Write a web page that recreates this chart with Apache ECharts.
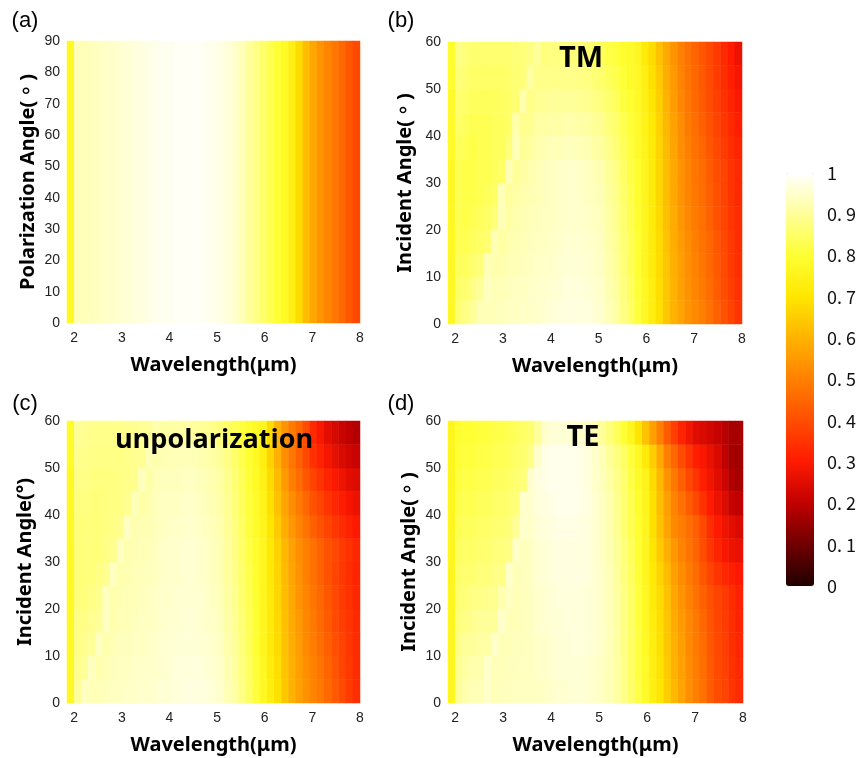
<!DOCTYPE html>
<html><head><meta charset="utf-8">
<script src="https://cdn.jsdelivr.net/npm/echarts@6/dist/echarts.min.js"></script>
<style>html,body{margin:0;padding:0;background:#fff}#c{width:859px;height:758px}</style>
</head><body><div id="c"></div>
<script>
// ---------- data ----------
const wavelengths = [1.925,2.075,2.225,2.375,2.525,2.675,2.825,2.975,3.125,3.275,3.425,3.575,3.725,3.875,4.025,4.175,4.325,4.475,4.625,4.775,4.925,5.075,5.225,5.375,5.525,5.675,5.825,5.975,6.125,6.275,6.425,6.575,6.725,6.875,7.025,7.175,7.325,7.475,7.625,7.775,7.925];
const polarAngles = ['0-90'];
const incidentAngles = [2.5,7.5,12.5,17.5,22.5,27.5,32.5,37.5,42.5,47.5,52.5,57.5];
const xTicks = [2,3,4,5,6,7,8];
const colorTicks = [0,0.1,0.2,0.3,0.4,0.5,0.6,0.7,0.8,0.9,1];

// (a) absorptance vs wavelength, identical for every polarization angle
const polarizationRow = [0.77,0.93,0.93,0.935,0.94,0.945,0.95,0.955,0.96,0.965,0.97,0.975,0.98,0.985,0.985,0.99,0.99,0.99,0.99,0.985,0.98,0.975,0.965,0.95,0.93,0.905,0.88,0.855,0.83,0.8,0.775,0.74,0.68,0.62,0.575,0.54,0.51,0.48,0.45,0.42,0.39];

// (b) TM, rows from 0-5 deg (bottom) to 55-60 deg (top)
const tmRows = [
[0.77,0.86,0.88,0.9,0.93,0.93,0.93,0.935,0.94,0.94,0.945,0.945, 0.95,0.955,0.96,0.965,0.97,0.97,0.97,0.965,0.96,0.95,0.93,0.91,0.88,0.85,0.81,0.77,0.73,0.69,0.64,0.60,0.57,0.54,0.52,0.50,0.47,0.44,0.41,0.38,0.35],
[0.77,0.85,0.86,0.88,0.9,0.94,0.93,0.93,0.935,0.94,0.94,0.945, 0.95,0.95,0.955,0.96,0.965,0.965,0.965,0.96,0.955,0.945,0.925,0.905,0.875,0.845,0.805,0.77,0.73,0.685,0.64,0.60,0.565,0.535,0.51,0.49,0.46,0.43,0.40,0.37,0.345],
[0.77,0.84,0.84,0.86,0.87,0.93,0.92,0.92,0.93,0.93,0.935,0.94, 0.945,0.945,0.95,0.955,0.96,0.96,0.96,0.955,0.95,0.94,0.92,0.9,0.87,0.84,0.8,0.765,0.725,0.68,0.635,0.595,0.56,0.53,0.505,0.48,0.455,0.425,0.395,0.365,0.34],
[0.77,0.83,0.83,0.84,0.85,0.86,0.93,0.91,0.92,0.925,0.93,0.935, 0.94,0.94,0.945,0.95,0.955,0.955,0.955,0.95,0.945,0.935,0.915,0.895,0.865,0.835,0.8,0.765,0.725,0.68,0.63,0.59,0.555,0.525,0.5,0.475,0.45,0.42,0.39,0.36,0.335],
[0.77,0.83,0.82,0.83,0.84,0.85,0.87,0.93,0.91,0.92,0.925,0.93, 0.935,0.94,0.94,0.945,0.95,0.95,0.95,0.945,0.94,0.93,0.91,0.89,0.86,0.83,0.795,0.76,0.72,0.675,0.625,0.585,0.545,0.515,0.49,0.47,0.44,0.41,0.385,0.355,0.335],
[0.77,0.83,0.82,0.82,0.83,0.84,0.85,0.93,0.905,0.91,0.92,0.925, 0.93,0.935,0.94,0.945,0.95,0.95,0.945,0.94,0.935,0.925,0.905,0.885,0.855,0.825,0.79,0.76,0.72,0.67,0.62,0.58,0.54,0.51,0.485,0.465,0.435,0.405,0.38,0.35,0.33],
[0.77,0.83,0.82,0.82,0.83,0.83,0.84,0.85,0.93,0.9,0.91,0.92, 0.93,0.935,0.94,0.945,0.95,0.95,0.945,0.94,0.93,0.92,0.90,0.88,0.85,0.82,0.79,0.76,0.72,0.67,0.62,0.58,0.54,0.51,0.48,0.46,0.43,0.40,0.38,0.35,0.33],
[0.78,0.84,0.83,0.82,0.83,0.83,0.84,0.84,0.87,0.93,0.9,0.905, 0.92,0.925,0.93,0.93,0.935,0.935,0.93,0.925,0.915,0.905,0.885,0.865,0.84,0.81,0.785,0.755,0.715,0.665,0.615,0.57,0.53,0.50,0.47,0.45,0.42,0.39,0.365,0.34,0.32],
[0.78,0.85,0.84,0.83,0.83,0.83,0.84,0.84,0.85,0.92,0.89,0.89, 0.91,0.91,0.915,0.915,0.92,0.92,0.915,0.91,0.9,0.89,0.87,0.855,0.83,0.805,0.78,0.75,0.71,0.66,0.61,0.565,0.525,0.49,0.465,0.44,0.41,0.38,0.355,0.33,0.31],
[0.78,0.86,0.85,0.84,0.84,0.84,0.84,0.845,0.85,0.86,0.92,0.88, 0.895,0.895,0.9,0.9,0.9,0.9,0.895,0.89,0.88,0.87,0.855,0.84,0.815,0.795,0.775,0.745,0.70,0.655,0.60,0.555,0.515,0.48,0.455,0.43,0.40,0.37,0.345,0.32,0.295],
[0.79,0.87,0.86,0.85,0.85,0.85,0.85,0.85,0.855,0.86,0.87,0.91, 0.885,0.885,0.885,0.885,0.885,0.885,0.88,0.875,0.865,0.855,0.84,0.825,0.805,0.785,0.77,0.735,0.69,0.645,0.59,0.55,0.51,0.475,0.45,0.425,0.395,0.365,0.34,0.31,0.285],
[0.79,0.88,0.87,0.86,0.86,0.86,0.86,0.86,0.86,0.865,0.87,0.88, 0.9,0.87,0.875,0.875,0.875,0.87,0.87,0.86,0.85,0.84,0.82,0.81,0.79,0.78,0.765,0.72,0.68,0.63,0.58,0.54,0.50,0.47,0.445,0.42,0.39,0.36,0.33,0.30,0.27]
];

// (c) unpolarization
const unpolRows = [
[0.77,0.9,0.94,0.93,0.93,0.935,0.94,0.94,0.945,0.945,0.95,0.95, 0.955,0.96,0.96,0.965,0.97,0.97,0.97,0.965,0.96,0.95,0.93,0.91,0.88,0.85,0.81,0.77,0.73,0.69,0.64,0.60,0.565,0.535,0.51,0.485,0.455,0.425,0.395,0.365,0.34],
[0.77,0.89,0.9,0.94,0.92,0.93,0.935,0.94,0.94,0.945,0.945,0.95, 0.95,0.955,0.96,0.965,0.965,0.965,0.965,0.96,0.955,0.945,0.925,0.905,0.875,0.845,0.805,0.77,0.725,0.685,0.635,0.595,0.56,0.53,0.505,0.475,0.445,0.415,0.385,0.36,0.335],
[0.77,0.88,0.89,0.9,0.94,0.92,0.93,0.935,0.935,0.94,0.94,0.945, 0.95,0.955,0.955,0.96,0.96,0.96,0.96,0.955,0.95,0.94,0.92,0.9,0.87,0.84,0.8,0.765,0.72,0.68,0.63,0.59,0.555,0.52,0.495,0.465,0.435,0.405,0.38,0.355,0.335],
[0.77,0.88,0.88,0.89,0.9,0.94,0.92,0.93,0.93,0.935,0.94,0.94, 0.945,0.95,0.955,0.955,0.96,0.96,0.955,0.95,0.945,0.935,0.915,0.895,0.865,0.835,0.8,0.765,0.72,0.675,0.625,0.585,0.55,0.515,0.49,0.455,0.425,0.395,0.37,0.35,0.33],
[0.77,0.87,0.87,0.88,0.89,0.94,0.92,0.925,0.93,0.93,0.935,0.94, 0.945,0.95,0.95,0.955,0.955,0.955,0.955,0.95,0.94,0.93,0.91,0.89,0.86,0.83,0.795,0.76,0.715,0.67,0.62,0.58,0.54,0.51,0.48,0.45,0.42,0.39,0.365,0.345,0.325],
[0.77,0.87,0.87,0.87,0.88,0.89,0.94,0.92,0.925,0.93,0.93,0.935, 0.94,0.945,0.95,0.95,0.955,0.955,0.95,0.945,0.935,0.925,0.905,0.885,0.855,0.825,0.79,0.76,0.71,0.665,0.615,0.57,0.535,0.5,0.47,0.44,0.41,0.385,0.36,0.34,0.32],
[0.77,0.87,0.87,0.87,0.87,0.88,0.89,0.94,0.92,0.925,0.93,0.93, 0.94,0.945,0.95,0.95,0.955,0.955,0.95,0.945,0.935,0.925,0.905,0.88,0.85,0.82,0.79,0.76,0.71,0.66,0.61,0.565,0.53,0.5,0.47,0.44,0.41,0.39,0.365,0.345,0.325],
[0.77,0.87,0.87,0.87,0.87,0.875,0.88,0.89,0.94,0.92,0.925,0.925, 0.935,0.94,0.945,0.945,0.95,0.95,0.945,0.94,0.93,0.92,0.9,0.875,0.845,0.815,0.785,0.755,0.70,0.645,0.59,0.545,0.51,0.475,0.44,0.41,0.38,0.355,0.335,0.315,0.295],
[0.77,0.875,0.875,0.87,0.87,0.875,0.875,0.88,0.89,0.935,0.915,0.92, 0.935,0.94,0.94,0.94,0.945,0.945,0.94,0.935,0.925,0.915,0.895,0.87,0.84,0.81,0.78,0.75,0.69,0.63,0.57,0.525,0.49,0.45,0.41,0.38,0.35,0.325,0.305,0.285,0.27],
[0.77,0.88,0.88,0.875,0.875,0.875,0.875,0.88,0.885,0.89,0.935,0.915, 0.93,0.935,0.935,0.935,0.94,0.94,0.935,0.93,0.92,0.91,0.89,0.865,0.835,0.805,0.775,0.745,0.68,0.615,0.55,0.5,0.46,0.42,0.38,0.35,0.32,0.295,0.275,0.255,0.245],
[0.78,0.89,0.885,0.88,0.88,0.88,0.88,0.88,0.885,0.89,0.895,0.93, 0.92,0.925,0.93,0.93,0.93,0.93,0.925,0.92,0.91,0.9,0.88,0.855,0.825,0.8,0.77,0.73,0.66,0.595,0.53,0.48,0.44,0.39,0.345,0.315,0.285,0.26,0.24,0.225,0.215],
[0.78,0.9,0.89,0.885,0.885,0.885,0.885,0.885,0.89,0.89,0.895,0.9, 0.92,0.91,0.91,0.91,0.91,0.905,0.9,0.895,0.885,0.87,0.85,0.83,0.81,0.79,0.775,0.76,0.68,0.6,0.54,0.49,0.45,0.4,0.33,0.29,0.255,0.235,0.215,0.2,0.185]
];

// (d) TE
const teRows = [
[0.76,0.9,0.92,0.93,0.93,0.95,0.93,0.935,0.935,0.94,0.94,0.94, 0.94,0.945,0.95,0.955,0.955,0.96,0.96,0.955,0.95,0.94,0.93,0.91,0.885,0.855,0.82,0.785,0.74,0.70,0.65,0.61,0.57,0.53,0.50,0.47,0.43,0.40,0.38,0.35,0.335],
[0.76,0.89,0.91,0.92,0.92,0.95,0.93,0.93,0.935,0.935,0.94,0.94, 0.945,0.95,0.955,0.96,0.96,0.96,0.96,0.955,0.95,0.94,0.93,0.91,0.885,0.85,0.815,0.78,0.735,0.695,0.645,0.60,0.565,0.525,0.495,0.465,0.425,0.395,0.375,0.345,0.33],
[0.76,0.88,0.9,0.9,0.91,0.91,0.95,0.93,0.93,0.935,0.935,0.94, 0.945,0.95,0.955,0.96,0.96,0.965,0.965,0.96,0.955,0.945,0.93,0.91,0.88,0.85,0.815,0.775,0.73,0.69,0.64,0.595,0.56,0.52,0.49,0.46,0.42,0.39,0.37,0.34,0.325],
[0.76,0.87,0.88,0.89,0.9,0.9,0.9,0.95,0.93,0.93,0.935,0.94, 0.95,0.955,0.96,0.96,0.965,0.965,0.965,0.96,0.955,0.945,0.93,0.91,0.88,0.85,0.81,0.77,0.725,0.685,0.635,0.585,0.55,0.515,0.485,0.45,0.415,0.385,0.365,0.34,0.32],
[0.76,0.86,0.87,0.88,0.88,0.89,0.89,0.92,0.94,0.93,0.935,0.94, 0.95,0.955,0.96,0.965,0.965,0.965,0.965,0.96,0.955,0.945,0.93,0.91,0.88,0.85,0.81,0.77,0.72,0.68,0.63,0.575,0.54,0.505,0.47,0.44,0.405,0.38,0.36,0.335,0.315],
[0.76,0.85,0.86,0.86,0.87,0.87,0.88,0.88,0.95,0.93,0.935,0.94, 0.955,0.96,0.965,0.97,0.97,0.97,0.97,0.965,0.955,0.945,0.93,0.905,0.875,0.845,0.805,0.765,0.71,0.665,0.615,0.56,0.525,0.49,0.46,0.42,0.38,0.35,0.325,0.31,0.295],
[0.76,0.84,0.85,0.85,0.86,0.86,0.87,0.87,0.88,0.95,0.935,0.94, 0.955,0.96,0.965,0.97,0.97,0.97,0.97,0.965,0.955,0.94,0.925,0.9,0.87,0.84,0.8,0.76,0.70,0.645,0.595,0.545,0.51,0.475,0.445,0.40,0.355,0.32,0.29,0.275,0.265],
[0.76,0.83,0.84,0.84,0.85,0.85,0.86,0.86,0.87,0.9,0.95,0.945, 0.96,0.965,0.97,0.975,0.975,0.975,0.97,0.965,0.955,0.94,0.92,0.895,0.86,0.83,0.795,0.76,0.69,0.63,0.57,0.52,0.495,0.465,0.435,0.39,0.34,0.30,0.275,0.255,0.24],
[0.76,0.82,0.83,0.83,0.84,0.84,0.85,0.85,0.86,0.87,0.95,0.95, 0.965,0.97,0.975,0.98,0.98,0.98,0.975,0.97,0.955,0.94,0.92,0.89,0.86,0.83,0.79,0.755,0.69,0.62,0.56,0.505,0.47,0.43,0.39,0.345,0.30,0.27,0.245,0.21,0.2],
[0.76,0.81,0.82,0.82,0.83,0.83,0.84,0.84,0.85,0.86,0.87,0.95, 0.97,0.975,0.98,0.98,0.98,0.98,0.975,0.965,0.95,0.935,0.91,0.885,0.86,0.82,0.785,0.75,0.68,0.61,0.54,0.485,0.44,0.39,0.35,0.31,0.28,0.25,0.22,0.18,0.17],
[0.76,0.8,0.81,0.81,0.82,0.82,0.83,0.83,0.84,0.85,0.86,0.88, 0.95,0.975,0.98,0.98,0.98,0.98,0.975,0.965,0.95,0.93,0.9,0.875,0.85,0.81,0.77,0.72,0.65,0.58,0.5,0.45,0.4,0.35,0.31,0.29,0.265,0.24,0.2,0.165,0.16],
[0.76,0.79,0.8,0.8,0.81,0.81,0.82,0.82,0.83,0.84,0.85,0.86, 0.9,0.95,0.96,0.96,0.96,0.955,0.95,0.94,0.92,0.9,0.87,0.84,0.8,0.76,0.7,0.63,0.56,0.5,0.43,0.37,0.32,0.28,0.25,0.24,0.225,0.21,0.19,0.17,0.17]
];

// ---------- build ----------
[[polarizationRow], tmRows, unpolRows, teRows].forEach((rows, k) => rows.forEach((r, j) => {
  if (r.length !== wavelengths.length) throw new Error('panel ' + k + ' row ' + j + ' has ' + r.length);
}));
function toCells(rows) {
  const out = [];
  rows.forEach((row, j) => row.forEach((v, i) => out.push([i, j, v])));
  return out;
}
const panels = [
  {rows: [polarizationRow], cats: polarAngles, yMax: 90, yName: 'Polarization Angle(。)', yGap: 29, grid: {left: 67, top: 41, width: 293, height: 282}},
  {rows: tmRows, cats: incidentAngles, yMax: 60, yName: 'Incident Angle(。)', yGap: 33, grid: {left: 448, top: 42, width: 294, height: 282}},
  {rows: unpolRows, cats: incidentAngles, yMax: 60, yName: 'Incident Angle(°)', yGap: 32, grid: {left: 67, top: 421, width: 293, height: 282}},
  {rows: teRows, cats: incidentAngles, yMax: 60, yName: 'Incident Angle(。)', yGap: 29, grid: {left: 448, top: 421, width: 295, height: 282}}
];
const nameFont = {fontFamily: '"Noto Sans", "Noto Sans CJK TC", sans-serif', fontWeight: 'bold', fontSize: 20, color: '#000'};
const tickFont = {fontFamily: '"Liberation Sans", Arial, sans-serif', fontSize: 14, color: '#222'};
const hidden = {axisLine: {show: false, onZero: false}, axisTick: {show: false}, splitLine: {show: false}};

const grid = [], xAxis = [], yAxis = [], series = [];
panels.forEach((p, k) => {
  grid.push(p.grid);
  xAxis.push({type: 'category', gridIndex: k, data: wavelengths.map(String), show: false, position: 'bottom'});
  xAxis.push(Object.assign({type: 'value', gridIndex: k, min: 1.85, max: 8, position: 'bottom',
    axisLabel: Object.assign({customValues: xTicks, margin: 8}, tickFont),
    name: 'Wavelength(μm)', nameLocation: 'middle', nameGap: 32, nameTextStyle: nameFont}, hidden));
  yAxis.push({type: 'category', gridIndex: k, data: p.cats.map(String), show: false, position: 'left'});
  yAxis.push(Object.assign({type: 'value', gridIndex: k, min: 0, max: p.yMax, interval: 10, position: 'left',
    axisLabel: Object.assign({margin: 7}, tickFont),
    name: p.yName, nameLocation: 'middle', nameGap: p.yGap, nameRotate: 90, nameTextStyle: nameFont}, hidden));
  series.push({type: 'heatmap', xAxisIndex: 2 * k, yAxisIndex: 2 * k, data: toCells(p.rows), silent: true,
    progressive: 0, itemStyle: {borderWidth: 0}});
});
// colour bar tick labels
grid.push({left: 786, top: 173, width: 28, height: 413});
xAxis.push({type: 'value', gridIndex: 4, show: false});
yAxis.push(Object.assign({type: 'value', gridIndex: 4, min: 0, max: 1, interval: 0.1, position: 'right',
  axisLabel: {margin: 13, fontFamily: '"Noto Sans CJK SC", sans-serif', fontSize: 18, color: '#111',
    formatter: v => { const t = colorTicks.find(c => Math.abs(c - v) < 1e-6); return (t === 0 || t === 1) ? String(t) : '0. ' + Math.round(t * 10); }}},
  hidden));

const txt = (text, x, y, font) => ({type: 'text', x, y, z: 100, zlevel: 0, silent: true,
  style: {text, font, fill: '#000', textAlign: 'center', textVerticalAlign: 'middle'}});
const panelFont = '22px "Liberation Sans", Arial, sans-serif';
const annFont = 'bold 29px "Open Sans", "Noto Sans", sans-serif';
const annFontLong = 'bold 27px "Open Sans", "Noto Sans", sans-serif';

const chart = echarts.init(document.getElementById('c'), null, {renderer: 'canvas'});
chart.setOption({
  backgroundColor: '#fff',
  animation: false,
  grid, xAxis, yAxis, series,
  visualMap: {type: 'continuous', min: 0, max: 1, dimension: 2, seriesIndex: [0, 1, 2, 3],
    orient: 'vertical', left: 786, top: 173, itemWidth: 28, itemHeight: 413, padding: 0,
    calculable: false, hoverLink: false, text: null, showLabel: false,
    inRange: {color: ['#200000', '#700000', '#c00000', '#ff1a00', '#ff4d00', '#ff8000', '#ffb300', '#ffe600', '#ffff33', '#ffff99', '#ffffff']}},
  graphic: {elements: [
    txt('(a)', 25, 21, panelFont), txt('(b)', 401, 21, panelFont),
    txt('(c)', 25, 404, panelFont), txt('(d)', 401, 404, panelFont),
    txt('TM', 581, 59, annFont), txt('unpolarization', 214, 440, annFontLong), txt('TE', 583, 438, annFont)
  ]}
});
</script></body></html>
